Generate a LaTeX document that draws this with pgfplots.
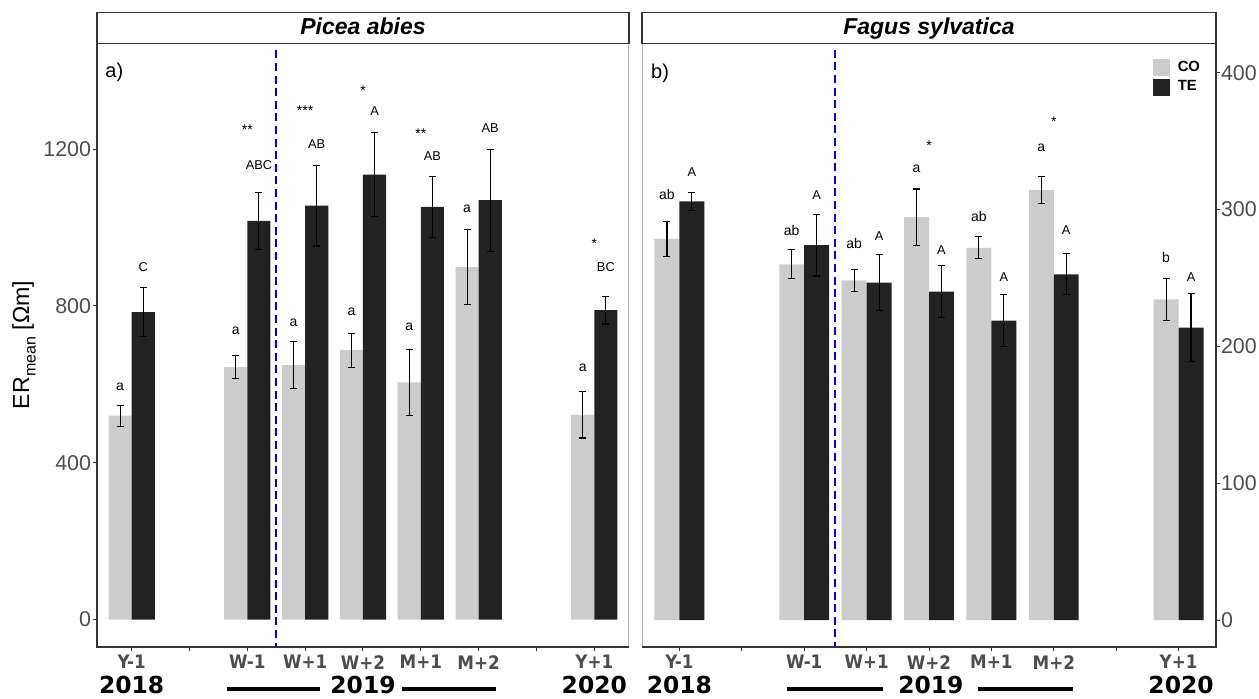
\documentclass[border=0pt]{standalone}
\usepackage{pgfplots}
\pgfplotsset{compat=1.18}
\usepackage{fontspec}
\setmainfont{Liberation Sans}
\newfontfamily\tickfont[FakeStretch=0.9]{DejaVu Sans}
\newfontfamily\yearfont{DejaVu Sans}
\definecolor{co}{HTML}{CCCCCC}
\definecolor{te}{HTML}{222222}
\definecolor{tickgray}{HTML}{4D4D4D}
\definecolor{axdark}{HTML}{333333}
\definecolor{bordergray}{HTML}{B3B3B3}
\pgfplotsset{
  panel/.style={
    scale only axis, clip=false,
    xmin=0.4, xmax=9.6,
    xtick={1,...,9},
    xticklabels={Y-1,,W-1,W+1,W+2,M+1,M+2,,Y+1},
    xtick pos=bottom,
    tick align=outside,
    major tick length=2pt,
    minor tick num=0,
    tick style={axdark, line width=0.5pt},
    axis line style={bordergray, line width=0.5pt},
    xticklabel style={font=\tickfont\bfseries\fontsize{9.3}{10}\selectfont, text=tickgray, inner sep=0pt, anchor=north, yshift=-2pt},
    yticklabel style={font=\fontsize{10.7}{12}\selectfont, text=tickgray, inner sep=0pt},
    /pgf/number format/assume math mode=true,
    /pgf/number format/1000 sep={},
  },
  cobar/.style={ybar, bar width=0.4, bar shift=0pt, fill=co, draw=none, forget plot,
    error bars/.cd, y dir=both, y explicit,
    error bar style={black, line width=0.55pt},
    error mark options={black, rotate=90, mark size=1.75pt, line width=0.55pt}},
  tebar/.style={ybar, bar width=0.4, bar shift=0pt, fill=te, draw=none, forget plot,
    error bars/.cd, y dir=both, y explicit,
    error bar style={black, line width=0.55pt},
    error mark options={black, rotate=90, mark size=1.75pt, line width=0.55pt}},
  divline/.style={blue, line width=1pt, dash pattern=on 4pt off 2.3pt, forget plot},
}
\tikzset{
  lo/.style={font=\fontsize{7}{8}\selectfont, inner sep=0pt},
  up/.style={font=\fontsize{6.4}{7}\selectfont, inner sep=0pt},
  st/.style={font=\fontsize{7}{8}\selectfont, inner sep=0pt, yshift=-1.5pt},
  yr/.style={font=\yearfont\bfseries\fontsize{11.7}{13}\selectfont, anchor=base, inner sep=0pt, yshift=-23.5pt},
  strip/.style={draw=axdark, line width=0.6pt, fill=white},
  striptext/.style={font=\bfseries\itshape\fontsize{11.5}{13}\selectfont, anchor=base, inner sep=0pt, yshift=4.2pt},
  yline/.style={black, line width=1.6pt},
}
\begin{document}
\begin{tikzpicture}
% ---------------- left panel: Picea abies ----------------
\begin{axis}[panel, at={(48.5pt,26pt)}, anchor=south west,
  width=266pt, height=301.85pt,
  ymin=-70, ymax=1470, ytick={0,400,800,1200},
  ytick pos=left, yticklabel style={anchor=east, xshift=-0.8pt}]
\addplot[cobar] coordinates {
  (0.8,520) +- (0,27)
  (2.8,644) +- (0,30)
  (3.8,649) +- (0,60)
  (4.8,687) +- (0,43)
  (5.8,605) +- (0,85)
  (6.8,899) +- (0,95)
  (8.8,522) +- (0,59)
};
\addplot[tebar] coordinates {
  (1.2,784) +- (0,62)
  (3.2,1017) +- (0,73)
  (4.2,1056) +- (0,103)
  (5.2,1135) +- (0,108)
  (6.2,1053) +- (0,78)
  (7.2,1070) +- (0,130)
  (9.2,789) +- (0,35)
};
\addplot[divline] coordinates {(3.5,1452) (3.5,-70)};
\draw[axdark, line width=0.6pt] (rel axis cs:0,1) -- (rel axis cs:0,0) -- (rel axis cs:1,0);
\draw[strip] (rel axis cs:0,1) rectangle ++(266pt,15.5pt);
\node[striptext] at (rel axis cs:0.5,1) {Picea abies};
\node[font=\fontsize{10}{12}\selectfont, anchor=west, inner sep=0pt] at (axis cs:0.54,1396) {a)};
% letters
\node[lo] at (axis cs:0.8,594) {a};   \node[up] at (axis cs:1.2,900) {C};
\node[lo] at (axis cs:2.8,736) {a};   \node[up] at (axis cs:3.2,1159) {ABC}; \node[st] at (axis cs:3,1257) {**};
\node[lo] at (axis cs:3.8,756) {a};   \node[up] at (axis cs:4.2,1213) {AB};  \node[st] at (axis cs:4,1306) {***};
\node[lo] at (axis cs:4.8,786) {a};   \node[up] at (axis cs:5.2,1298) {A};   \node[st] at (axis cs:5,1356) {*};
\node[lo] at (axis cs:5.8,747) {a};   \node[up] at (axis cs:6.2,1183) {AB};  \node[st] at (axis cs:6,1247) {**};
\node[lo] at (axis cs:6.8,1047) {a};  \node[up] at (axis cs:7.2,1253) {AB};
\node[lo] at (axis cs:8.8,641) {a};   \node[up] at (axis cs:9.2,899) {BC};   \node[st] at (axis cs:9,966) {*};
% years
\node[yr] at (axis cs:1,-70) {2018};
\node[yr] at (axis cs:5,-70) {2019};
\node[yr] at (axis cs:9,-70) {2020};
\draw[yline] ([yshift=-21pt]axis cs:2.65,-70) -- ([yshift=-21pt]axis cs:4.25,-70);
\draw[yline] ([yshift=-21pt]axis cs:5.68,-70) -- ([yshift=-21pt]axis cs:7.30,-70);
\end{axis}
% ---------------- right panel: Fagus sylvatica ----------------
\begin{axis}[panel, at={(321pt,26pt)}, anchor=south west,
  width=287pt, height=301.85pt,
  ymin=-19.7, ymax=421.5, ytick={0,100,200,300,400},
  ytick pos=right, yticklabel pos=right, yticklabel style={anchor=west, xshift=0.3pt},
  legend style={at={(rel axis cs:0.8902,0.974)}, anchor=north west, draw=none, fill=none,
    inner sep=0pt, outer sep=0pt, row sep=1.5pt, column sep=4pt,
    nodes={inner sep=0pt}, font=\bfseries\fontsize{7.4}{8}\selectfont},
  legend cell align=left]
\addplot[cobar] coordinates {
  (0.8,278.5) +- (0,13)
  (2.8,260) +- (0,10.6)
  (3.8,248.3) +- (0,8)
  (4.8,294.4) +- (0,20.6)
  (5.8,272) +- (0,8)
  (6.8,314.3) +- (0,10)
  (8.8,234.4) +- (0,15.4)
};
\addplot[tebar] coordinates {
  (1.2,306) +- (0,6.6)
  (3.2,274) +- (0,22.6)
  (4.2,246.6) +- (0,20.5)
  (5.2,240) +- (0,19)
  (6.2,218.8) +- (0,19)
  (7.2,252.7) +- (0,15)
  (9.2,213.7) +- (0,24.7)
};
\addplot[divline] coordinates {(3.5,416.7) (3.5,-19.7)};
\addlegendimage{legend image code/.code={\fill[co] (0pt,-4pt) rectangle (8pt,4pt);}}
\addlegendentry{CO}
\addlegendimage{legend image code/.code={\fill[te] (0pt,-4pt) rectangle (8pt,4pt);}}
\addlegendentry{TE}
\draw[axdark, line width=0.6pt] (rel axis cs:0,0) -- (rel axis cs:1,0) -- (rel axis cs:1,1);
\draw[strip] (rel axis cs:0,1) rectangle ++(287pt,15.5pt);
\node[striptext] at (rel axis cs:0.5,1) {Fagus sylvatica};
\node[font=\fontsize{10}{12}\selectfont, anchor=west, inner sep=0pt] at (axis cs:0.54,399.5) {b)};
% letters
\node[lo] at (axis cs:0.8,310.7) {ab}; \node[up] at (axis cs:1.2,327.5) {A};
\node[lo] at (axis cs:2.8,285) {ab};   \node[up] at (axis cs:3.2,310.7) {A};
\node[lo] at (axis cs:3.8,275.4) {ab}; \node[up] at (axis cs:4.2,280.7) {A};
\node[lo] at (axis cs:4.8,330) {a};    \node[up] at (axis cs:5.2,270.5) {A}; \node[st] at (axis cs:5,348.5) {*};
\node[lo] at (axis cs:5.8,295) {ab};   \node[up] at (axis cs:6.2,250.5) {A};
\node[lo] at (axis cs:6.8,345.3) {a};  \node[up] at (axis cs:7.2,285) {A};   \node[st] at (axis cs:7,366.7) {*};
\node[lo] at (axis cs:8.8,265) {b};    \node[up] at (axis cs:9.2,250.5) {A};
% years
\node[yr] at (axis cs:1,-19.7) {2018};
\node[yr] at (axis cs:5.03,-19.7) {2019};
\node[yr] at (axis cs:9.04,-19.7) {2020};
\draw[yline] ([yshift=-21pt]axis cs:2.73,-19.7) -- ([yshift=-21pt]axis cs:4.26,-19.7);
\draw[yline] ([yshift=-21pt]axis cs:5.78,-19.7) -- ([yshift=-21pt]axis cs:7.31,-19.7);
\end{axis}
\node[rotate=90, font=\fontsize{11.6}{13}\selectfont] at (12pt,177pt) {ER\raisebox{-0.28em}{\fontsize{8}{9}\selectfont mean} [Ωm]};
\pgfresetboundingbox
\path[use as bounding box] (0,0) rectangle (629.5pt,349.5pt);
\end{tikzpicture}
\end{document}
